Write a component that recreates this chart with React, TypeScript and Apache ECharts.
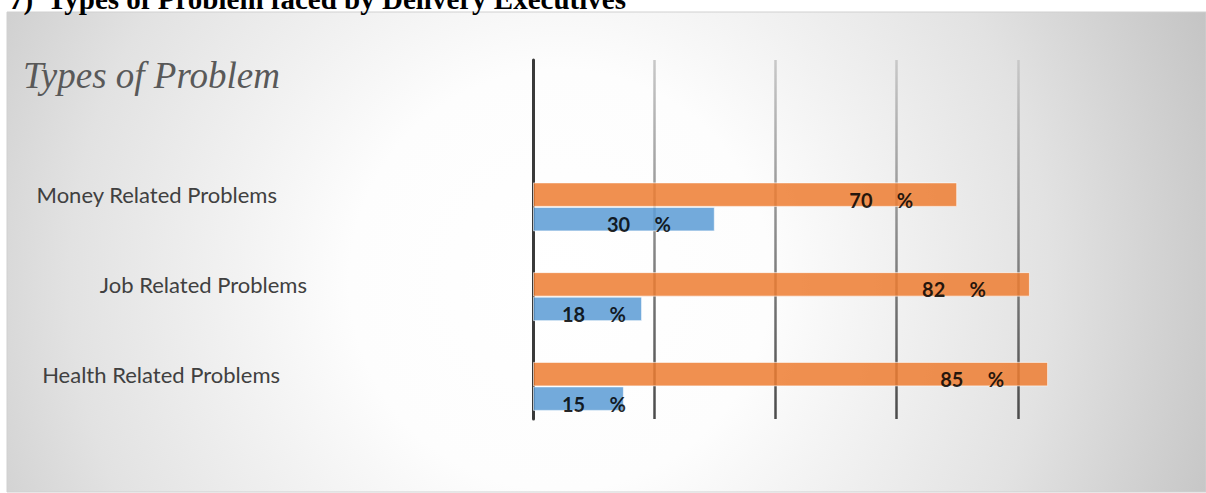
import { useEffect, useRef } from "react";
import * as echarts from "echarts";

const categories = ["Money Related Problems", "Job Related Problems", "Health Related Problems"];
const labelKeys = ["m", "j", "h"];
const orangeValues = [70, 82, 85];
const blueValues = [30, 18, 15];
const xMin = 0;
const xMax = 100;
const xInterval = 20;
const chartTitle = "Types of Problem";
const heading = "7)  Types of Problem faced by Delivery Executives";

export default function App() {
  const ref = useRef<HTMLDivElement>(null);
  useEffect(() => {
    const chart = echarts.init(ref.current!, null, { renderer: "svg" });
    const yCats = ["", ...categories];
    const labelBase = {
      color: "#000",
      fontWeight: "bold" as const,
      fontFamily: "Lato",
      fontSize: 20,
      formatter: "{c}     %",
      position: "insideRight" as const,
      distance: 44,
      offset: [0, 5],
    };
    const mkData = (vals: number[]) => [
      null,
      ...vals.map((v) =>
        v < 20 ? { value: v, label: { position: "insideLeft", distance: 29 } } : { value: v }
      ),
    ];
    const catIndex: Record<string, string> = {};
    categories.forEach((c, i) => (catIndex[c] = labelKeys[i]));
    const catFont = { fontFamily: "Lato", fontSize: 22, color: "#404040" };
    chart.setOption({
      animation: false,
      backgroundColor: "transparent",
      graphic: [
        {
          type: "rect",
          z: -10,
          silent: true,
          shape: { x: 7, y: 12, width: 1199, height: 480 },
          style: {
            fill: {
              type: "radial",
              x: 560,
              y: 280,
              r: 700,
              global: true,
              colorStops: [
                { offset: 0, color: "#ffffff" },
                { offset: 0.3, color: "#fdfdfd" },
                { offset: 0.7, color: "#e2e2e2" },
                { offset: 1, color: "#c4c4c4" },
              ],
            },
            stroke: "#d0d0d0",
            lineWidth: 1,
          },
        },
        {
          type: "text",
          left: 9,
          top: -16,
          silent: true,
          style: {
            text: heading,
            font: "bold 29px 'Liberation Serif'",
            fill: "#000",
          },
        },
      ],
      title: {
        text: chartTitle,
        left: 18,
        top: 52,
        textStyle: {
          fontFamily: "Liberation Serif",
          fontStyle: "italic",
          fontWeight: "normal",
          fontSize: 37,
          color: "#595959",
        },
      },
      grid: { left: 533, right: 67, top: 60, bottom: 74, containLabel: false },
      xAxis: {
        type: "value",
        min: xMin,
        max: xMax,
        interval: xInterval,
        axisLabel: { show: false },
        axisLine: { show: false },
        axisTick: { show: false },
        splitLine: {
          show: true,
          showMaxLine: false,
          lineStyle: {
            width: 2.5,
            color: {
              type: "linear",
              x: 0,
              y: 60,
              x2: 0,
              y2: 419,
              global: true,
              colorStops: [
                { offset: 0, color: "#c8c8c8" },
                { offset: 1, color: "#4a4a4a" },
              ],
            },
          },
        },
      },
      yAxis: {
        type: "category",
        inverse: true,
        data: yCats,
        axisLine: { show: true, lineStyle: { color: "#3a3a3a", width: 3 } },
        axisTick: { show: false },
        splitLine: { show: false },
        axisLabel: {
          margin: 226,
          ...catFont,
          formatter: (v: string) => (v ? `{${catIndex[v]}|${v}}` : ""),
          rich: {
            m: { ...catFont, padding: [0, 30, 0, 0] },
            j: { ...catFont, padding: [0, 0, 0, 0] },
            h: { ...catFont, padding: [0, 27, 0, 0] },
          },
        },
      },
      series: [
        {
          name: "pad",
          type: "bar",
          data: [],
          barWidth: 24.5,
          barGap: "0%",
          silent: true,
        },
        {
          name: "Problem",
          type: "bar",
          data: mkData(orangeValues),
          barWidth: 24.5,
          barGap: "0%",
          itemStyle: {
            color: "#ED7D31",
            opacity: 0.85,
            borderColor: "rgba(255,255,255,0.7)",
            borderWidth: 1,
          },
          label: { show: true, ...labelBase },
        },
        {
          name: "No Problem",
          type: "bar",
          data: mkData(blueValues),
          barWidth: 24.5,
          barGap: "0%",
          itemStyle: {
            color: "#5B9BD5",
            opacity: 0.85,
            borderColor: "rgba(255,255,255,0.7)",
            borderWidth: 1,
          },
          label: { show: true, ...labelBase },
        },
      ],
    });
    return () => chart.dispose();
  }, []);
  return (
    <div
      ref={ref}
      style={{ position: "absolute", left: 0, top: 0, width: 1206, height: 493 }}
    />
  );
}
